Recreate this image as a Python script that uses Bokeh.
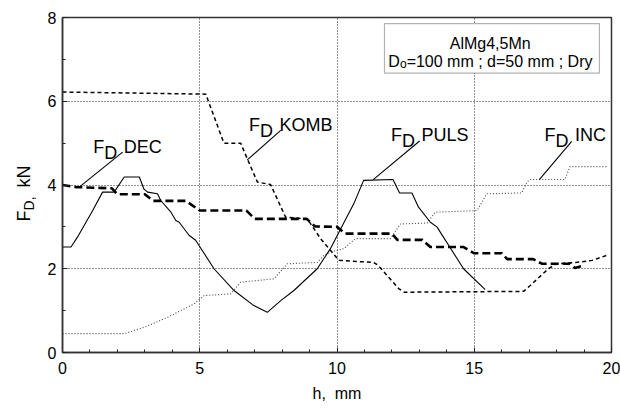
import math
from bokeh.plotting import figure
from bokeh.models import Label, BoxAnnotation, SingleIntervalTicker, FixedTicker, Range1d
from bokeh.embed import file_html
from bokeh.resources import INLINE

FONT = "Liberation Sans"

# ---- data (h in mm, F_D in kN) ----
puls_h = [0, 0.31, 0.55, 1.1, 1.46, 1.88, 2.25, 2.8, 2.97, 3.1, 3.46, 3.58, 3.95, 4.13, 4.25, 4.61, 4.85,
          5.52, 6.25, 6.97, 7.46, 7.95, 8.43, 9.28, 9.76, 10.07, 10.61, 10.97, 12.04, 12.28, 12.73, 12.97,
          13.4, 13.64, 14.61, 15.4]
puls_f = [2.52, 2.52, 2.76, 3.39, 3.83, 3.83, 4.19, 4.19, 3.9, 3.83, 3.79, 3.63, 3.35, 3.15, 3.11, 2.8, 2.68,
          2.0, 1.48, 1.12, 0.96, 1.24, 1.48, 2.0, 2.48, 2.87, 3.55, 4.11, 4.13, 3.81, 3.81, 3.47,
          3.11, 3.0, 2.0, 1.5]

dec_h = [0, 0.5, 1.8, 2.0, 3.0, 3.3, 4.5, 5.0, 6.7, 7.0, 8.9, 9.2, 10.0, 10.3, 12.0, 12.2, 13.1, 13.4,
         14.6, 15.0, 16.0, 16.2, 17.15, 17.46, 18.49, 18.67, 18.9]
dec_f = [4.0, 3.95, 3.92, 3.78, 3.78, 3.62, 3.62, 3.39, 3.39, 3.19, 3.19, 3.01, 3.0, 2.84, 2.84, 2.69, 2.69, 2.52,
         2.52, 2.37, 2.37, 2.23, 2.23, 2.12, 2.12, 2.02, 2.06]

komb_h = [0, 5.22, 5.88, 6.49, 6.73, 7.1, 7.58, 8.13, 8.92, 9.4, 9.76, 10.07, 11.34, 11.5, 12.26, 12.45,
          16.8, 17.04, 17.7, 18.0, 18.7, 19.3, 19.83]
komb_f = [6.22, 6.17, 5.0, 5.0, 4.63, 4.07, 4.01, 3.23, 3.19, 2.72, 2.44, 2.2, 2.15, 2.08, 1.52, 1.44,
          1.46, 1.6, 2.0, 2.12, 2.15, 2.2, 2.32]

inc_h = [0, 2.25, 2.97, 3.83, 4.79, 5.16, 6.13, 6.49, 7.7, 8.19, 9.28, 9.52, 9.76, 10.25, 10.67, 11.95,
         12.31, 13.28, 13.58, 15.1, 15.46, 16.73, 16.92, 17.04, 18.3, 18.49, 19.84]
inc_f = [0.45, 0.45, 0.6, 0.84, 1.16, 1.36, 1.4, 1.68, 1.76, 2.12, 2.15, 2.32, 2.4, 2.48, 2.72, 2.72,
         3.07, 3.09, 3.35, 3.39, 3.79, 3.81, 4.07, 4.13, 4.13, 4.44, 4.44]

# curve labels
label_names = ["DEC", "KOMB", "PULS", "INC"]
label_h = [1.12, 6.79, 11.97, 17.56]
label_f = [4.906, 5.424, 5.185, 5.185]
leader_h0 = [2.19, 7.95, 13.01, 18.55]
leader_f0 = [4.786, 5.305, 5.05, 5.04]
leader_h1 = [0.61, 6.73, 11.32, 17.37]
leader_f1 = [3.95, 4.60, 4.13, 4.13]

p = figure(width=620, height=408, x_range=Range1d(0, 20), y_range=Range1d(0, 8),
           output_backend="svg", toolbar_location=None,
           min_border_left=62, min_border_right=9, min_border_top=17, min_border_bottom=56)

p.background_fill_color = "white"
p.border_fill_color = "white"
p.outline_line_color = "#333333"
p.outline_line_width = 1.5

# grid
p.xgrid.ticker = FixedTicker(ticks=[5, 10, 15])
p.ygrid.ticker = FixedTicker(ticks=[2, 4, 6])
for g in (p.xgrid, p.ygrid):
    g.grid_line_color = "#222222"
    g.grid_line_dash = "1 2"
    g.grid_line_width = 1

# axes
p.xaxis.ticker = SingleIntervalTicker(interval=5, num_minor_ticks=5)
p.yaxis.ticker = SingleIntervalTicker(interval=2, num_minor_ticks=2)
for ax in (p.xaxis, p.yaxis):
    ax.axis_line_color = "#333333"
    ax.axis_line_width = 1.5
    ax.major_tick_in = 5
    ax.major_tick_out = 0
    ax.minor_tick_in = 3
    ax.minor_tick_out = 0
    ax.major_tick_line_color = "#222222"
    ax.minor_tick_line_color = "#222222"
    ax.major_label_text_font = FONT
    ax.major_label_text_font_size = "16px"
    ax.major_label_text_color = "black"
p.xaxis.major_label_standoff = 9
p.yaxis.major_label_standoff = 6
p.xaxis.axis_label = "h,\u00a0 mm"
p.xaxis.axis_label_text_font = FONT
p.xaxis.axis_label_text_font_size = "16px"
p.xaxis.axis_label_text_font_style = "normal"
p.xaxis.axis_label_text_color = "black"
p.xaxis.axis_label_standoff = 8

# curves
p.line(inc_h, inc_f, line_color="#444444", line_width=1.1, line_dash="1 2")
p.line(komb_h, komb_f, line_color="black", line_width=1.5, line_dash="4 3")
p.line(dec_h, dec_f, line_color="black", line_width=2.6, line_dash="8 4")
p.line(puls_h, puls_f, line_color="black", line_width=1.1)

# leader lines
p.segment(leader_h0, leader_f0, leader_h1, leader_f1, line_color="black", line_width=1.1)


def lab(x, y, text, size, dx=0, dy=0, align="left", angle=0.0, panel="center"):
    p.add_layout(Label(x=x, y=y, x_offset=dx, y_offset=dy, text=text, angle=angle,
                       text_font=FONT, text_font_size=size, text_color="black",
                       text_baseline="alphabetic", text_align=align), panel)


# curve labels: F with subscript D
for name, lh, lf in zip(label_names, label_h, label_f):
    lab(lh, lf, "F", "18px")
    lab(lh, lf, "D", "18px", dx=11, dy=-6)
    lab(lh, lf, name, "18px", dx=30.5)

# info box
p.add_layout(BoxAnnotation(left=11.73, right=19.56, bottom=6.674, top=7.854,
                           fill_color="white", fill_alpha=1.0, line_color="black", line_width=1.2))
lab(15.58, 7.39, "AlMg4,5Mn", "16px", align="center")
lab(11.87, 6.953, "D", "16px")
lab(11.87, 6.953, "o", "12px", dx=11.6, dy=-3)
lab(11.87, 6.953, "=100 mm ; d=50 mm ; Dry", "16px", dx=18.3)

# y axis label F_D, kN (rotated), two labels in the left panel
ang = math.pi / 2
lab(-1.42, 3.13, "F\u2002\u2002 kN", "18px", angle=ang, panel="left")
lab(-1.42, 3.13, "D,", "14px", dx=5, dy=11, angle=ang, panel="left")

open("out.html", "w").write(file_html(p, INLINE))
